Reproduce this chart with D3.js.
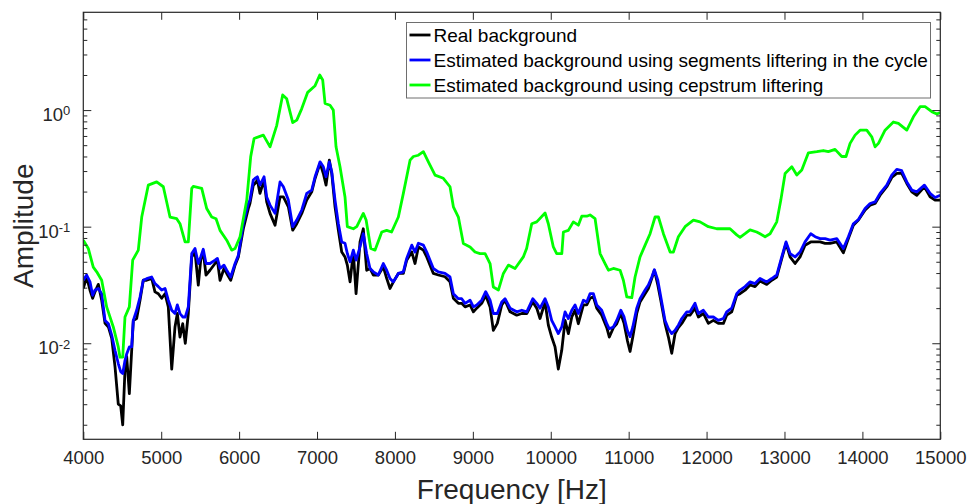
<!DOCTYPE html>
<html>
<head>
<meta charset="utf-8">
<script src="https://cdn.jsdelivr.net/npm/d3@7"></script>
<style>
  body { margin: 0; background: #fff; }
  svg { font-family: "Liberation Sans", Arial, Helvetica, sans-serif; display: block; }
</style>
</head>
<body>
<div id="root"></div>
<script>
// frequencies shared by the real and the segment-liftered background
const freqSeg = [4000,4043,4086,4120,4150,4193,4236,4279,4322,4365,
  4407,4449,4480,4506,4535,4557,4591,4621,4642,4685,
  4728,4770,4813,4878,4920,4963,5006,5049,5091,5135,
  5177,5207,5241,5276,5309,5348,5392,5434,5476,5507,
  5540,5575,5626,5691,5721,5755,5806,5841,5892,5948,
  5990,6054,6118,6139,6182,6204,6234,6268,6320,6354,
  6397,6461,6525,6568,6632,6688,6740,6804,6868,6932,
  6975,7039,7081,7116,7158,7189,7231,7274,7317,7359,
  7389,7424,7466,7501,7552,7594,7637,7680,7723,7787,
  7851,7894,7937,7980,8044,8108,8151,8216,8258,8301,
  8365,8408,8493,8557,8643,8707,8750,8814,8857,8900,
  8964,9007,9050,9114,9165,9221,9263,9314,9371,9413,
  9478,9563,9628,9692,9769,9820,9862,9927,9969,10012,
  10055,10097,10141,10184,10226,10270,10312,10354,10419,10462,
  10504,10547,10590,10654,10719,10752,10804,10847,10899,10941,
  10983,11018,11053,11104,11146,11211,11253,11297,11330,11374,
  11412,11467,11510,11553,11596,11638,11682,11746,11788,11852,
  11895,11959,12023,12087,12151,12216,12258,12323,12387,12430,
  12494,12558,12622,12686,12729,12772,12837,12901,12965,13020,
  13072,13136,13200,13264,13337,13393,13457,13521,13585,13671,
  13756,13820,13884,13949,14035,14099,14163,14227,14313,14377,
  14441,14505,14570,14634,14698,14796,14869,14933,15000];

const realBg = [0.0295,0.037,0.0285,0.0243,0.0276,0.032,0.0234,0.0148,0.0138,0.011,
  0.0063,0.003,0.0029,0.002,0.0059,0.0077,0.0037,0.0087,0.0157,0.0163,
  0.0234,0.0347,0.0347,0.036,0.0276,0.0266,0.0243,0.0266,0.0205,0.006,
  0.0138,0.018,0.0113,0.0147,0.01,0.018,0.055,0.0606,0.0316,0.0516,
  0.0606,0.0385,0.0423,0.0483,0.0516,0.0347,0.0438,0.0397,0.0347,0.0468,
  0.055,0.096,0.143,0.158,0.227,0.235,0.251,0.193,0.251,0.163,
  0.13,0.103,0.18,0.18,0.148,0.0933,0.106,0.13,0.169,0.199,
  0.259,0.349,0.286,0.227,0.372,0.286,0.148,0.0933,0.0606,0.055,
  0.0468,0.0336,0.0606,0.0266,0.074,0.096,0.0423,0.0438,0.0385,0.0385,
  0.0453,0.036,0.0295,0.0336,0.0397,0.0397,0.0516,0.0606,0.0483,0.067,
  0.0629,0.055,0.0397,0.0385,0.0372,0.0336,0.0243,0.022,0.022,0.0205,
  0.0213,0.0186,0.02,0.022,0.0258,0.0205,0.0129,0.0148,0.0213,0.0234,
  0.0186,0.0174,0.018,0.018,0.0226,0.02,0.0163,0.0226,0.0143,0.0113,
  0.0093,0.006,0.0087,0.0157,0.0121,0.0168,0.0192,0.0147,0.0213,0.0213,
  0.0243,0.025,0.02,0.0174,0.0136,0.0113,0.0136,0.0147,0.018,0.0148,
  0.0106,0.0085,0.0113,0.018,0.0226,0.0266,0.0295,0.036,0.0423,0.0316,
  0.0234,0.0147,0.0113,0.0082,0.0121,0.0136,0.0148,0.0174,0.0174,0.02,
  0.0168,0.018,0.0148,0.0157,0.0148,0.0148,0.0174,0.0186,0.0258,0.0266,
  0.0285,0.0316,0.0306,0.0342,0.033,0.032,0.0347,0.037,0.0533,0.072,
  0.055,0.0483,0.055,0.0694,0.074,0.074,0.074,0.072,0.072,0.074,
  0.0596,0.079,0.103,0.114,0.139,0.153,0.158,0.186,0.22,0.264,
  0.286,0.286,0.235,0.199,0.186,0.22,0.18,0.169,0.169];

const segmentBg = [0.0347,0.0385,0.0336,0.0258,0.0286,0.0295,0.0266,0.0157,0.0147,0.0117,
  0.0087,0.0067,0.0057,0.0055,0.0071,0.0081,0.0093,0.0093,0.0157,0.0192,
  0.0249,0.0347,0.0358,0.037,0.0325,0.0306,0.0286,0.0295,0.0234,0.0192,
  0.018,0.0213,0.018,0.0168,0.0168,0.0205,0.0588,0.065,0.0483,0.055,
  0.064,0.0483,0.0483,0.0516,0.0534,0.0438,0.0468,0.0423,0.037,0.0483,
  0.0568,0.106,0.158,0.169,0.251,0.259,0.268,0.227,0.268,0.18,
  0.153,0.13,0.242,0.22,0.169,0.1,0.114,0.139,0.193,0.206,
  0.268,0.36,0.326,0.268,0.36,0.296,0.169,0.106,0.074,0.072,
  0.0588,0.05,0.063,0.0516,0.067,0.087,0.0588,0.0438,0.041,0.0385,
  0.0483,0.0423,0.0359,0.0336,0.0397,0.041,0.0534,0.0694,0.0606,0.072,
  0.0694,0.0606,0.0438,0.041,0.0397,0.037,0.0266,0.0241,0.0241,0.022,
  0.0234,0.0205,0.0213,0.0234,0.0277,0.0234,0.018,0.018,0.0226,0.0241,
  0.02,0.0186,0.0192,0.0186,0.0241,0.022,0.02,0.0241,0.0205,0.0157,
  0.0138,0.0121,0.0138,0.0186,0.0163,0.0192,0.0213,0.018,0.0234,0.0226,
  0.0266,0.0266,0.0213,0.0192,0.0147,0.0133,0.0138,0.0157,0.0192,0.0168,
  0.0129,0.0114,0.0138,0.02,0.0241,0.0286,0.0316,0.037,0.0427,0.0347,
  0.025,0.0157,0.0133,0.0121,0.0129,0.0143,0.0163,0.0186,0.0186,0.022,
  0.018,0.0192,0.0168,0.0168,0.0157,0.0163,0.0186,0.02,0.0266,0.0286,
  0.0306,0.0336,0.0325,0.0359,0.0347,0.0336,0.0359,0.0385,0.055,0.074,
  0.0588,0.055,0.0606,0.074,0.087,0.082,0.079,0.079,0.0766,0.079,
  0.065,0.082,0.106,0.115,0.143,0.158,0.163,0.193,0.227,0.277,
  0.31,0.302,0.242,0.206,0.199,0.227,0.193,0.178,0.186];

// cepstrum-liftered estimate has its own sampling
const freqCep = [4000,4064,4128,4172,4236,4300,4385,4449,4471,4506,
  4535,4591,4634,4706,4750,4834,4942,5027,5113,5199,
  5241,5306,5348,5392,5412,5520,5584,5648,5704,5755,
  5841,5905,5948,6012,6098,6149,6192,6311,6397,6483,
  6559,6611,6688,6740,6804,6880,6975,7035,7073,7103,
  7167,7209,7244,7295,7359,7389,7466,7510,7594,7630,
  7690,7745,7831,7894,7957,8044,8108,8194,8237,8301,
  8365,8429,8515,8621,8707,8750,8814,8878,8964,9028,
  9092,9157,9221,9263,9328,9392,9456,9542,9648,9690,
  9756,9820,9927,9969,10033,10076,10142,10162,10226,10290,
  10354,10398,10462,10504,10569,10633,10697,10740,10804,10890,
  10932,10976,11040,11082,11146,11211,11275,11339,11382,11446,
  11532,11574,11638,11724,11831,11916,12023,12130,12301,12387,
  12430,12494,12558,12643,12686,12751,12815,12901,12953,13008,
  13094,13158,13222,13307,13415,13499,13563,13649,13735,13790,
  13842,13906,13970,14056,14120,14163,14206,14291,14398,14462,
  14570,14655,14741,14805,14891,14955,15000];

const cepstrumBg = [0.0766,0.065,0.045,0.041,0.0347,0.0205,0.0138,0.0093,0.0076,0.0076,
  0.0168,0.0205,0.0516,0.0629,0.121,0.227,0.242,0.22,0.121,0.117,
  0.106,0.074,0.074,0.213,0.222,0.213,0.143,0.121,0.117,0.093,
  0.0766,0.0629,0.065,0.082,0.169,0.4,0.571,0.61,0.484,0.74,
  1.35,1.25,0.78,0.82,1.03,1.42,1.62,2.0,1.81,1.14,
  1.1,1.0,0.484,0.326,0.18,0.1,0.096,0.1,0.13,0.114,
  0.065,0.063,0.09,0.093,0.09,0.121,0.193,0.372,0.4,0.41,
  0.44,0.36,0.277,0.26,0.22,0.148,0.121,0.0718,0.067,0.0606,
  0.0588,0.0588,0.0483,0.0304,0.0286,0.0397,0.0468,0.0438,0.055,0.065,
  0.106,0.11,0.131,0.106,0.067,0.0588,0.0588,0.09,0.093,0.11,
  0.103,0.123,0.123,0.126,0.117,0.0588,0.0483,0.0423,0.0438,0.0423,
  0.0347,0.025,0.0246,0.037,0.055,0.0694,0.087,0.121,0.121,0.087,
  0.0606,0.0606,0.082,0.1,0.114,0.11,0.1,0.096,0.096,0.085,
  0.081,0.087,0.094,0.09,0.087,0.082,0.087,0.11,0.169,0.286,
  0.326,0.277,0.306,0.43,0.44,0.45,0.44,0.46,0.4,0.4,
  0.518,0.61,0.673,0.673,0.59,0.484,0.518,0.673,0.79,0.77,
  0.673,0.876,1.07,1.07,0.97,0.924,0.955];

const xTicks = [4000,5000,6000,7000,8000,9000,10000,11000,12000,13000,14000,15000];
const yMajor = [0.01, 0.1, 1];
const yExponents = ['-2', '-1', '0'];
const legendLabels = [
  'Real background',
  'Estimated background using segments liftering in the cycle',
  'Estimated background using cepstrum liftering'
];
const seriesColors = ['#000000', '#0000ff', '#00ff00'];

const margin = {top: 12.3, right: 26.7, bottom: 64.7, left: 83.3};
const width = 967 - margin.left - margin.right;
const height = 504 - margin.top - margin.bottom;
const axisColor = '#262626';

const svg = d3.select('#root')
  .append('svg')
    .attr('width', 967)
    .attr('height', 504);

const g = svg.append('g')
  .attr('transform', `translate(${margin.left}, ${margin.top})`);

const xScale = d3.scaleLinear()
  .domain([4000, 15000])
  .range([0, width]);

const yScale = d3.scaleLog()
  .domain([0.0015, 6.9])
  .range([height, 0]);

const yMinor = yScale.ticks().filter((v) => !yMajor.some((m) => Math.abs(m - v) < 1e-9));

g.append('clipPath')
  .attr('id', 'plotClip')
  .append('rect')
    .attr('width', width)
    .attr('height', height);

// curves
const line = d3.line()
  .x((d) => xScale(d[0]))
  .y((d) => yScale(d[1]));

const series = [
  d3.zip(freqSeg, realBg),
  d3.zip(freqSeg, segmentBg),
  d3.zip(freqCep, cepstrumBg)
];

g.append('g')
  .attr('clip-path', 'url(#plotClip)')
  .selectAll('path')
  .data(series)
  .enter().append('path')
    .attr('d', line)
    .attr('fill', 'none')
    .attr('stroke', (d, i) => seriesColors[i])
    .attr('stroke-width', 2.8)
    .attr('stroke-linejoin', 'round');

// axes, ticks point inward like matlab
function styleAxis(sel) {
  sel.select('.domain').remove();
  sel.selectAll('line').attr('stroke', axisColor);
  sel.selectAll('text')
    .attr('fill', axisColor)
    .style('font-size', '18.5px')
    .style('font-family', '"Liberation Sans", Arial, sans-serif');
}

g.append('g')
  .attr('transform', `translate(0, ${height})`)
  .call(d3.axisBottom(xScale).tickValues(xTicks).tickSizeInner(-7.5).tickSizeOuter(0).tickPadding(12).tickFormat(d3.format('d')))
  .call(styleAxis);

g.append('g')
  .call(d3.axisTop(xScale).tickValues(xTicks).tickSizeInner(-7.5).tickSizeOuter(0).tickFormat(''))
  .call(styleAxis);

const yLeft = g.append('g')
  .call(d3.axisLeft(yScale).tickValues(yMajor).tickSizeInner(-8).tickSizeOuter(0).tickPadding(13).tickFormat(''))
  .call(styleAxis);

yLeft.selectAll('.tick text')
  .attr('dy', '0.56em')
  .each(function(d, i) {
    const t = d3.select(this);
    t.append('tspan').text('10');
    t.append('tspan')
      .attr('dy', '-0.42em')
      .style('font-size', '13px')
      .text(yExponents[i]);
  });

g.append('g')
  .call(d3.axisLeft(yScale).tickValues(yMinor).tickSizeInner(-4).tickSizeOuter(0).tickFormat(''))
  .call(styleAxis);

g.append('g')
  .attr('transform', `translate(${width}, 0)`)
  .call(d3.axisRight(yScale).tickValues(yMajor).tickSizeInner(-8).tickSizeOuter(0).tickFormat(''))
  .call(styleAxis);

g.append('g')
  .attr('transform', `translate(${width}, 0)`)
  .call(d3.axisRight(yScale).tickValues(yMinor).tickSizeInner(-4).tickSizeOuter(0).tickFormat(''))
  .call(styleAxis);

g.append('rect')
  .attr('width', width)
  .attr('height', height)
  .attr('fill', 'none')
  .attr('stroke', axisColor)
  .attr('stroke-width', 1.2);

// axis titles
svg.append('text')
  .attr('x', margin.left + width / 2)
  .attr('y', 499)
  .attr('text-anchor', 'middle')
  .attr('fill', axisColor)
  .style('font-size', '28px')
  .text('Frequency [Hz]');

svg.append('text')
  .attr('transform', `translate(33, ${margin.top + height / 2}) rotate(-90)`)
  .attr('text-anchor', 'middle')
  .attr('fill', axisColor)
  .style('font-size', '28px')
  .text('Amplitude');

// legend
const legend = svg.append('g')
  .attr('transform', 'translate(406.5, 22.5)');

legend.append('rect')
  .attr('width', 524)
  .attr('height', 75.5)
  .attr('fill', '#fff')
  .attr('stroke', '#6e6e6e')
  .attr('stroke-width', 1);

const rows = legend.selectAll('.row')
  .data(legendLabels)
  .enter().append('g')
    .attr('class', 'row')
    .attr('transform', (d, i) => `translate(0, ${12.5 + i * 25})`);

rows.append('line')
  .attr('x1', 3)
  .attr('x2', 24)
  .attr('stroke', (d, i) => seriesColors[i])
  .attr('stroke-width', 2.8);

rows.append('text')
  .attr('x', 27)
  .attr('dy', '0.36em')
  .attr('fill', '#000')
  .style('font-size', '19px')
  .text((d) => d);
</script>
</body>
</html>
